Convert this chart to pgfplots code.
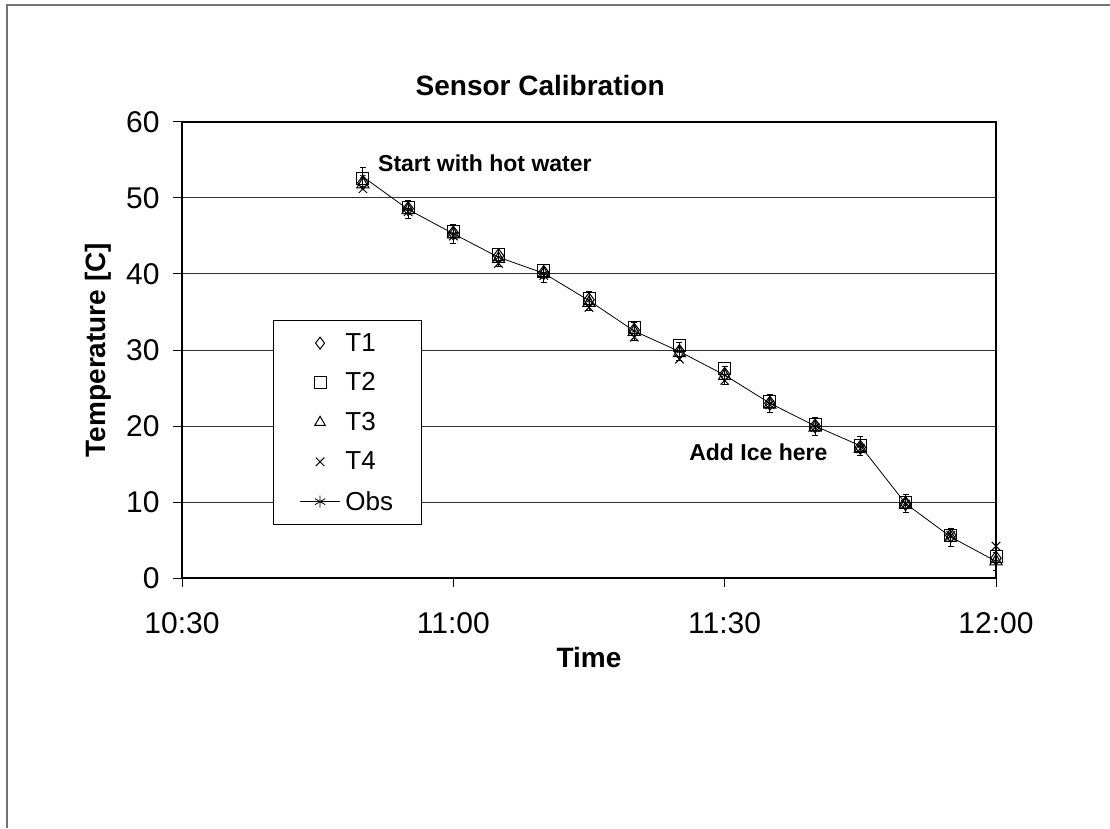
\documentclass[border=0pt]{standalone}
\usepackage{fontspec}
\setmainfont{Liberation Sans}
\usepackage{pgfplots}
\pgfplotsset{compat=1.18}
\usepackage{pgfplotstable}

\pgfplotstableread{
t  T1   T2   T3   T4   Obs
20 52.0 52.6 51.8 51.2 52.8
25 48.6 48.7 48.4 48.2 48.5
30 45.4 45.6 45.2 45.0 45.3
35 42.4 42.6 42.0 41.4 42.2
40 40.2 40.4 40.0 39.8 40.1
45 36.6 36.8 36.2 35.6 36.5
50 32.6 32.9 32.4 31.7 32.5
55 29.8 30.6 29.6 28.8 29.8
60 26.8 27.6 26.6 26.0 26.7
65 23.0 23.2 22.8 22.8 23.0
70 20.0 20.2 19.8 19.8 20.0
75 17.2 17.4 17.0 17.0 17.4
80 9.8  9.9  9.7  9.7  9.8
85 5.6  5.6  5.3  5.6  5.4
90 2.6  2.8  2.2  4.2  2.2
}\data

\begin{document}
\begin{tikzpicture}[x=1pt,y=1pt]
\useasboundingbox (0,0) rectangle (1110,828);
\draw[black!55, line width=1.5pt] (7,0) -- (7,823) -- (1110,823);
\begin{axis}[
  at={(182pt,250pt)}, anchor=south west,
  scale only axis, width=814pt, height=456pt,
  xmin=0, xmax=90, ymin=0, ymax=60,
  xtick={0,30,60,90}, xticklabels={10:30,11:00,11:30,12:00},
  ytick={0,10,...,60},
  ymajorgrids, grid style={black!80, line width=1pt},
  axis line style={black, line width=1.5pt},
  tick style={black, line width=1pt},
  tick align=outside, xtick pos=bottom, ytick pos=left,
  major tick length=9pt,
  ticklabel style={font=\fontsize{30}{32}\selectfont},
  xticklabel style={yshift=-22pt},
  yticklabel style={xshift=-10pt},
  /pgf/number format/assume math mode=true,
  xlabel={Time}, ylabel={Temperature [C]},
  label style={font=\fontsize{28}{30}\selectfont\bfseries},
  xlabel style={at={(axis description cs:0.5,-0.1754)}, anchor=center},
  ylabel style={at={(axis description cs:-0.1032,0.5)}, anchor=center},
  title={Sensor Calibration},
  title style={at={(axis description cs:0.44,1)}, anchor=base, yshift=20pt, font=\fontsize{28}{30}\selectfont\bfseries},
  legend style={at={(axis description cs:0.112,0.566)}, anchor=north west,
    draw=black, line width=1pt, fill=white,
    font=\fontsize{26}{28}\selectfont, row sep=16pt, inner xsep=26pt, inner ysep=11pt,
    /tikz/every odd column/.append style={column sep=3pt}},
  legend cell align=left,
  legend image code/.code={\draw[mark repeat=2,mark phase=2,#1] plot coordinates {(0pt,0pt)(20pt,0pt)(40pt,0pt)};},
  legend image post style={mark size=6pt, line width=0.8pt},
]
\addplot[only marks, black, mark=diamond, mark size=7pt, mark options={line width=1pt}] table[x=t,y=T1]{\data};
\addlegendentry{T1}
\addplot[only marks, black, mark=square, mark size=6pt, mark options={line width=1pt}] table[x=t,y=T2]{\data};
\addlegendentry{T2}
\addplot[only marks, black, mark=triangle, mark size=7pt, mark options={line width=1pt}] table[x=t,y=T3]{\data};
\addlegendentry{T3}
\addplot[only marks, black, mark=x, mark size=6pt, mark options={line width=1pt}] table[x=t,y=T4]{\data};
\addlegendentry{T4}
\addplot[black, line width=0.8pt, mark=asterisk, mark size=3pt,
  error bars/.cd, y dir=both, y fixed=1.2, error bar style={line width=0.8pt}] table[x=t,y=Obs]{\data};
\addlegendentry{Obs}
\node[anchor=base west, font=\fontsize{23}{26}\selectfont\bfseries] at (axis cs:21.3,53.55) {Start with hot water};
\node[anchor=base west, font=\fontsize{23}{26}\selectfont\bfseries] at (axis cs:55.7,15.5) {Add Ice here};
\end{axis}
\end{tikzpicture}
\end{document}
